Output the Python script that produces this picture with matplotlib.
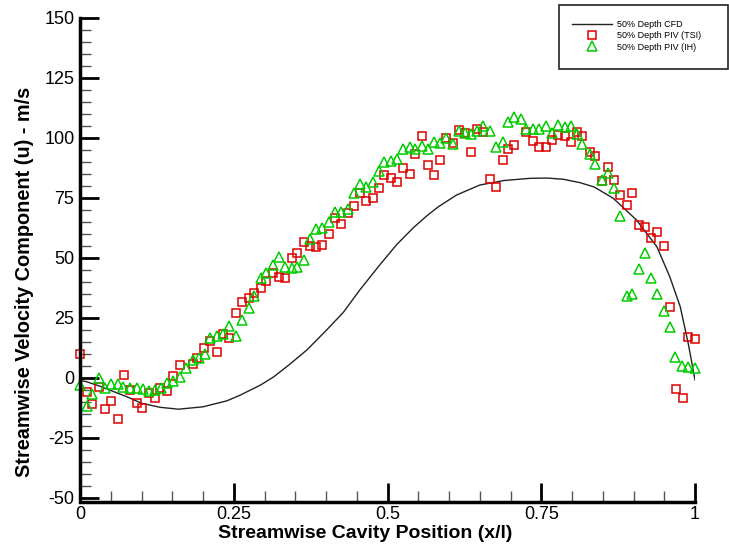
import matplotlib
matplotlib.use("Agg")
import matplotlib.pyplot as plt
from matplotlib.patches import Rectangle
from matplotlib.ticker import MultipleLocator

plt.rcParams['font.family'] = ['Liberation Sans', 'DejaVu Sans']
plt.rcParams['axes.unicode_minus'] = False

# CFD curve at 50% depth
cfd_x = [0.0, 0.01, 0.03, 0.05, 0.076, 0.1, 0.13, 0.16, 0.2, 0.239, 0.26, 0.293,
         0.314, 0.34, 0.369, 0.401, 0.428, 0.455, 0.488, 0.515, 0.542, 0.564,
         0.583, 0.612, 0.65, 0.69, 0.732, 0.76, 0.786, 0.813, 0.836, 0.867,
         0.905, 0.938, 0.959, 0.976, 0.989, 1.0]
cfd_u = [-1.0, -1.5, -3.2, -5.2, -7.8, -10.5, -12.2, -13.0, -12.0, -9.5, -7.2, -3.0,
         0.3, 5.5, 11.7, 20.0, 27.3, 36.7, 47.3, 55.6, 62.6, 67.6,
         71.4, 76.2, 80.4, 82.3, 83.2, 83.3, 82.8, 81.4, 79.6, 74.9,
         65.8, 54.7, 42.2, 29.7, 14.4, -0.8]

# PIV (TSI)
tsi_x = [0.000, 0.011, 0.020, 0.031, 0.040, 0.051, 0.061, 0.072, 0.081, 0.092,
         0.101, 0.113, 0.122, 0.130, 0.142, 0.152, 0.163, 0.183, 0.191, 0.202,
         0.211, 0.223, 0.233, 0.242, 0.253, 0.263, 0.274, 0.283, 0.294, 0.303,
         0.314, 0.324, 0.334, 0.344, 0.353, 0.364, 0.374, 0.384, 0.394, 0.405,
         0.415, 0.425, 0.436, 0.445, 0.455, 0.465, 0.476, 0.486, 0.495, 0.505,
         0.516, 0.526, 0.536, 0.545, 0.556, 0.566, 0.575, 0.585, 0.595, 0.606,
         0.616, 0.626, 0.636, 0.646, 0.656, 0.667, 0.676, 0.687, 0.696, 0.706,
         0.726, 0.737, 0.747, 0.757, 0.767, 0.778, 0.788, 0.798, 0.808, 0.817,
         0.829, 0.838, 0.848, 0.858, 0.868, 0.878, 0.889, 0.898, 0.909, 0.919,
         0.928, 0.939, 0.949, 0.959, 0.969, 0.980, 0.989, 1.000]
tsi_u = [10.0, -5.7, -11.0, -3.6, -13.0, -9.6, -17.0, 1.2, -5.0, -10.5,
         -12.4, -6.4, -8.2, -4.2, -5.4, 0.8, 5.4, 5.7, 8.2, 12.4,
         15.4, 10.7, 18.2, 16.5, 27.0, 31.8, 33.2, 35.6, 37.4, 40.4,
         43.6, 42.2, 41.8, 50.1, 51.9, 56.5, 55.1, 54.7, 55.4, 59.8,
         66.5, 64.0, 68.9, 71.7, 77.0, 73.8, 74.9, 79.3, 84.6, 83.5,
         81.5, 87.4, 85.0, 93.2, 100.8, 88.8, 84.6, 90.8, 99.9, 98.0,
         103.3, 101.9, 94.3, 103.6, 102.6, 83.0, 79.4, 90.8, 95.3, 97.0,
         102.4, 98.8, 96.4, 96.4, 99.2, 101.3, 100.8, 98.3, 102.4, 101.0,
         94.3, 92.6, 82.2, 87.8, 82.5, 76.3, 72.1, 77.0, 63.8, 62.8,
         58.2, 60.9, 55.0, 29.7, -4.7, -8.2, 17.2, 16.1]

# PIV (IH)
ih_x = [0.000, 0.011, 0.020, 0.031, 0.040, 0.051, 0.061, 0.070, 0.081, 0.092,
        0.102, 0.113, 0.122, 0.131, 0.142, 0.152, 0.163, 0.172, 0.183, 0.193,
        0.203, 0.212, 0.222, 0.233, 0.243, 0.253, 0.263, 0.274, 0.283, 0.294,
        0.303, 0.314, 0.324, 0.334, 0.344, 0.353, 0.364, 0.374, 0.384, 0.394,
        0.405, 0.415, 0.425, 0.436, 0.445, 0.455, 0.465, 0.476, 0.486, 0.495,
        0.505, 0.516, 0.526, 0.536, 0.545, 0.556, 0.566, 0.575, 0.585, 0.595,
        0.606, 0.616, 0.626, 0.636, 0.646, 0.656, 0.667, 0.676, 0.687, 0.696,
        0.706, 0.717, 0.726, 0.737, 0.747, 0.757, 0.767, 0.778, 0.788, 0.798,
        0.808, 0.817, 0.829, 0.838, 0.848, 0.858, 0.868, 0.878, 0.889, 0.898,
        0.909, 0.919, 0.928, 0.939, 0.949, 0.959, 0.968, 0.979, 0.989, 1.000]
ih_u = [-2.9, -11.7, -6.8, -0.1, -4.3, -2.6, -2.6, -3.9, -4.3, -4.3,
        -4.7, -5.4, -5.0, -4.3, -2.2, -1.3, 0.3, 4.0, 7.5, 8.2,
        10.0, 16.5, 17.5, 18.2, 21.7, 17.5, 24.2, 29.0, 34.3, 41.5,
        43.9, 47.1, 50.5, 46.4, 45.7, 46.1, 49.2, 57.8, 62.1, 62.4,
        64.9, 69.0, 69.0, 70.4, 77.0, 80.7, 79.7, 81.8, 86.3, 90.1,
        90.4, 91.1, 95.3, 96.1, 95.3, 96.7, 95.3, 98.5, 98.0, 99.9,
        97.5, 102.9, 102.2, 101.7, 102.9, 105.1, 103.0, 96.4, 98.5, 106.8,
        108.6, 107.8, 103.6, 103.6, 103.6, 105.0, 101.9, 105.6, 104.7, 105.0,
        101.7, 97.4, 93.3, 89.0, 82.5, 85.3, 79.3, 67.6, 34.2, 34.9,
        45.6, 51.9, 41.5, 34.9, 28.0, 21.4, 8.9, 5.1, 4.7, 4.3]

labels = ['50% Depth CFD', '50% Depth PIV (TSI)', '50% Depth PIV (IH)']
xticks = [0, 0.25, 0.5, 0.75, 1]
xticklabels = ['0', '0.25', '0.5', '0.75', '1']
yticks = [-50, -25, 0, 25, 50, 75, 100, 125, 150]

fig = plt.figure(figsize=(7.29, 5.5), dpi=100)
ax = fig.add_axes([80/729, 52/550, 615/729, 480/550])

l1, = ax.plot(cfd_x, cfd_u, color='#222222', lw=1.0, label=labels[0])
l2, = ax.plot(tsi_x, tsi_u, ls='none', marker='s', ms=6, mfc='none',
              mec='#dd0000', mew=1.1, label=labels[1], clip_on=False)
l3, = ax.plot(ih_x, ih_u, ls='none', marker='^', ms=6.5, mfc='none',
              mec='#00cc00', mew=1.1, label=labels[2], clip_on=False)

ax.set_xlim(0, 1)
ax.set_ylim(-50, 150)
ax.set_xticks(xticks)
ax.set_xticklabels(xticklabels)
ax.set_yticks(yticks)
ax.xaxis.set_minor_locator(MultipleLocator(0.05))
ax.yaxis.set_minor_locator(MultipleLocator(5))
ax.tick_params(which='major', direction='in', length=14, width=2, labelsize=13)
ax.tick_params(which='minor', direction='in', length=8, width=1, color='#555555')
ax.tick_params(axis='x', which='both', top=False)
ax.tick_params(axis='x', which='major', pad=3)
ax.tick_params(axis='y', which='both', right=False)
ax.tick_params(axis='y', which='major', pad=4)

for s in ['top', 'right']:
    ax.spines[s].set_visible(False)
ax.spines['left'].set_linewidth(2.5)
ax.spines['bottom'].set_linewidth(2.5)
ax.spines['bottom'].set_position(('outward', 3))

ax.set_xlabel('Streamwise Cavity Position (x/l)', fontsize=14, fontweight='bold')
ax.set_ylabel('Streamwise Velocity Component (u) - m/s', fontsize=14.3, fontweight='bold')
ax.xaxis.set_label_coords(0.463, -0.056)
ax.yaxis.set_label_coords(-0.074, 0.45)

# legend box
fig.patches.append(Rectangle((559/729, 1 - 69/550), 169/729, 64/550,
                             transform=fig.transFigure, fill=False,
                             edgecolor='#222222', lw=1.2))
fig.legend([l1, l2, l3], labels, loc='upper left',
           bbox_to_anchor=(572/729, 1 - 20/550), frameon=False,
           fontsize=6.5, handlelength=4.4, handletextpad=0.6,
           labelspacing=0.25, borderpad=0, borderaxespad=0)

fig.savefig('out.png', dpi=100)
